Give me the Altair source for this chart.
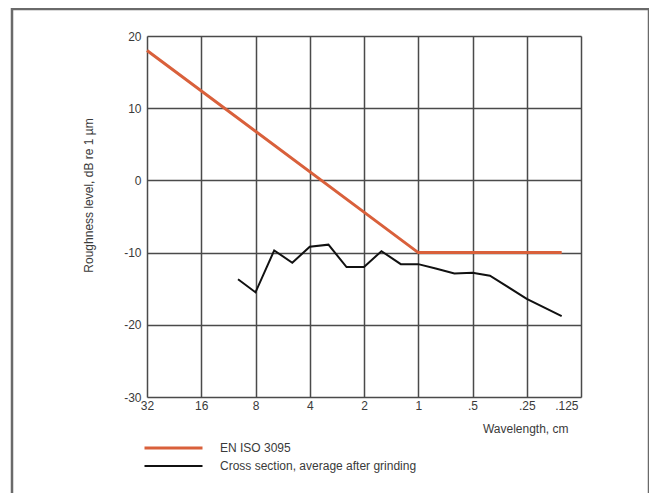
import altair as alt
import pandas as pd

# EN ISO 3095 limit line
iso_wavelength = [32, 1, 0.16]
iso_level = [18, -10, -10]

# Cross section, average after grinding (third-octave bands)
cs_wavelength = [10, 8, 6.3, 5, 4, 3.15, 2.5, 2, 1.6, 1.25, 1, 0.8, 0.63, 0.5, 0.4, 0.25, 0.16]
cs_level = [-13.7, -15.5, -9.7, -11.4, -9.2, -8.9, -12.0, -12.0, -9.8, -11.6, -11.6, -12.2,
            -12.9, -12.8, -13.2, -16.4, -18.8]

series_names = ["EN ISO 3095", "Cross section, average after grinding"]
series_colors = ["#d9603b", "#111111"]

x_ticks = [32, 16, 8, 4, 2, 1, 0.5, 0.25, 0.125]
x_tick_labels = ["32", "16", "8", "4", "2", "1", ".5", ".25", ".125"]
y_ticks = [-30, -20, -10, 0, 10, 20]

rows = []
for i, (w, v) in enumerate(zip(iso_wavelength, iso_level)):
    rows.append({"series": series_names[0], "wavelength": w, "level": v, "order": i})
for i, (w, v) in enumerate(zip(cs_wavelength, cs_level)):
    rows.append({"series": series_names[1], "wavelength": w, "level": v, "order": i})
df = pd.DataFrame(rows)

label_expr = " : ".join(
    f"datum.value == {t} ? '{l}'" for t, l in zip(x_ticks, x_tick_labels)
) + " : ''"

font = "Liberation Sans"
grid_color = "#4a4a4a"
text_color = "#3a3a3a"

lines = alt.Chart(df).mark_line(strokeJoin="miter").encode(
    x=alt.X("wavelength:Q",
            scale=alt.Scale(type="log", base=2, domain=[0.125, 32], reverse=True, nice=False),
            axis=alt.Axis(values=x_ticks, labelExpr=label_expr, title="Wavelength, cm",
                          titleX=421, titleY=31, titleAlign="right", titleBaseline="middle",
                          titleFontWeight="normal", titleFontSize=12,
                          labelFontSize=12, labelPadding=3, ticks=False, grid=True,
                          labelAlign={"condition": {"test": "datum.value == 0.125", "value": "right"},
                                      "value": "center"},
                          labelOffset={"condition": {"test": "datum.value == 0.125", "value": -3},
                                       "value": 0},
                          gridColor=grid_color, gridWidth=1.5, domain=False,
                          labelColor=text_color, titleColor=text_color, labelFlush=False)),
    y=alt.Y("level:Q", scale=alt.Scale(domain=[-30, 20], nice=False),
            axis=alt.Axis(values=y_ticks, labelExpr="'' + datum.value",
                          title="Roughness level, dB re 1 µm",
                          titleY=159, titleX=-59, titleAngle=270, titleAlign="center",
                          titleBaseline="middle",
                          titleFontWeight="normal", titleFontSize=12,
                          labelFontSize=12, labelPadding=6, ticks=False, grid=True,
                          gridColor=grid_color, gridWidth=1.5, domain=False,
                          labelColor=text_color, titleColor=text_color)),
    color=alt.Color("series:N",
                    scale=alt.Scale(domain=series_names, range=series_colors),
                    legend=alt.Legend(title=None, orient="none", legendX=-4, legendY=404,
                                      symbolType="stroke", symbolSize=3364,
                                      symbolStrokeWidth=3, labelFontSize=12,
                                      labelFont=font, labelColor=text_color, labelLimit=400,
                                      clipHeight=16, rowPadding=2, labelOffset=16)),
    strokeWidth=alt.StrokeWidth("series:N",
                                scale=alt.Scale(domain=series_names, range=[3, 2]),
                                legend=None),
    order="order:Q",
    detail="series:N",
)

frame = alt.Chart(pd.DataFrame({"a": [0]})).mark_rect(
    fill=None, stroke="#6a6a6a", strokeWidth=2.5, clip=False
).encode(
    x=alt.value(-135), x2=alt.value(502), y=alt.value(-27), y2=alt.value(480)
)

chart = alt.layer(frame, lines).properties(
    width=434, height=361,
    autosize=alt.AutoSizeParams(type="none"),
    padding={"left": 139, "top": 28, "right": 68, "bottom": 96},
).configure_view(stroke="#444", strokeWidth=1.5).configure(
    font=font
)

chart.save("out.html", embed_options={"renderer": "svg", "actions": False})
